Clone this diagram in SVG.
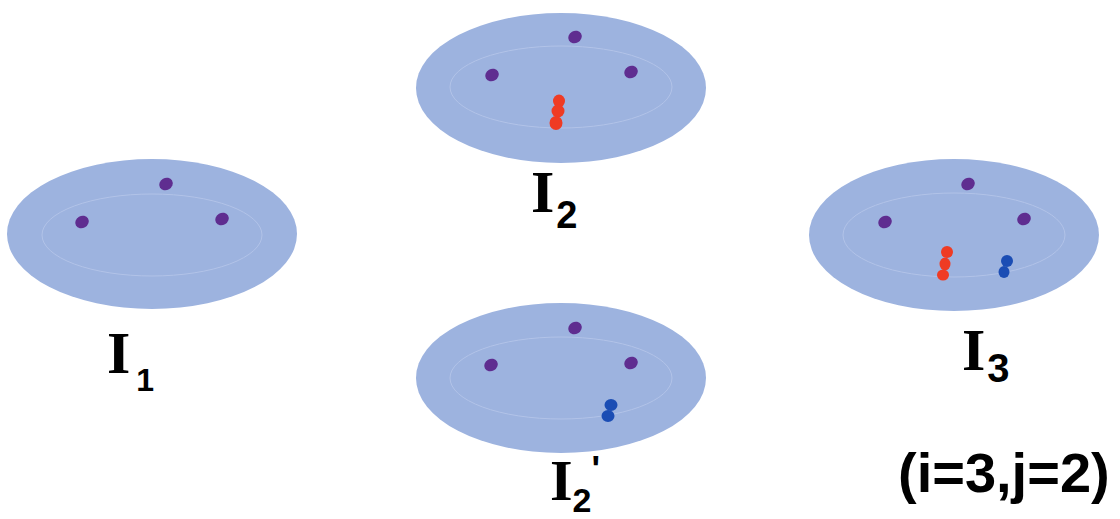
<svg xmlns="http://www.w3.org/2000/svg" width="1120" height="519" viewBox="0 0 1120 519">
<style>
.outer{fill:#9db3df;}
.inner{fill:none;stroke:#b2c3e8;stroke-width:1;}
.p{fill:#5f2d90;}
.r{fill:#ef3b24;}
.b{fill:#1b4db4;}
.lbl{font-family:"Liberation Serif",serif;font-weight:bold;fill:#000;}
.sub{font-family:"Liberation Sans",sans-serif;font-weight:bold;}
.eq{font-family:"Liberation Sans",sans-serif;font-weight:bold;font-size:56px;fill:#000;}
</style>
<rect width="1120" height="519" fill="#fff"/>
<g id="I1">
<ellipse class="outer" cx="152" cy="234" rx="145" ry="75"/>
<ellipse class="inner" cx="152" cy="235" rx="110" ry="41"/>
<ellipse class="p" cx="166" cy="184" rx="7" ry="6" transform="rotate(-30 166 184)"/>
<ellipse class="p" cx="82" cy="222" rx="7" ry="6" transform="rotate(-30 82 222)"/>
<ellipse class="p" cx="222" cy="219" rx="7" ry="6" transform="rotate(-30 222 219)"/>
<text class="lbl" x="107" y="373" font-size="60">I<tspan class="sub" font-size="32" font-weight="normal" dx="6" dy="18">1</tspan></text>
</g>
<g id="I2">
<ellipse class="outer" cx="561" cy="88" rx="145" ry="75"/>
<ellipse class="inner" cx="561" cy="87" rx="111" ry="41"/>
<ellipse class="p" cx="575" cy="37" rx="7" ry="6" transform="rotate(-30 575 37)"/>
<ellipse class="p" cx="492" cy="75" rx="7" ry="6" transform="rotate(-30 492 75)"/>
<ellipse class="p" cx="631" cy="72" rx="7" ry="6" transform="rotate(-30 631 72)"/>
<ellipse class="r" cx="559" cy="101" rx="6" ry="6.5"/>
<ellipse class="r" cx="558" cy="111" rx="6.5" ry="6.5"/>
<ellipse class="r" cx="556" cy="123" rx="6.5" ry="7"/>
<text class="lbl" x="531" y="212" font-size="60">I<tspan class="sub" font-size="38" dx="2" dy="16">2</tspan></text>
</g>
<g id="I2prime">
<ellipse class="outer" cx="561" cy="378" rx="145" ry="75"/>
<ellipse class="inner" cx="561" cy="378" rx="111" ry="41"/>
<ellipse class="p" cx="575" cy="328" rx="7" ry="6" transform="rotate(-30 575 328)"/>
<ellipse class="p" cx="491" cy="365" rx="7" ry="6" transform="rotate(-30 491 365)"/>
<ellipse class="p" cx="631" cy="363" rx="7" ry="6" transform="rotate(-30 631 363)"/>
<ellipse class="b" cx="611" cy="405" rx="6.5" ry="6"/>
<ellipse class="b" cx="608" cy="416" rx="6.5" ry="6"/>
<text class="lbl" x="550" y="500" font-size="58">I<tspan class="sub" font-size="34" dx="0" dy="12">2</tspan><tspan class="sub" font-size="36" font-weight="normal" dx="0" dy="-30">'</tspan></text>
</g>
<g id="I3">
<ellipse class="outer" cx="954" cy="235" rx="145" ry="76"/>
<ellipse class="inner" cx="954" cy="235" rx="111" ry="42"/>
<ellipse class="p" cx="968" cy="184" rx="7" ry="6" transform="rotate(-30 968 184)"/>
<ellipse class="p" cx="885" cy="222" rx="7" ry="6" transform="rotate(-30 885 222)"/>
<ellipse class="p" cx="1024" cy="219" rx="7" ry="6" transform="rotate(-30 1024 219)"/>
<ellipse class="r" cx="947" cy="252" rx="6" ry="6"/>
<ellipse class="r" cx="945" cy="264" rx="5.5" ry="6.5"/>
<ellipse class="r" cx="943" cy="275" rx="6" ry="5.5"/>
<ellipse class="b" cx="1007" cy="261" rx="6" ry="6"/>
<ellipse class="b" cx="1004" cy="272" rx="5.5" ry="6"/>
<text class="lbl" x="962" y="370" font-size="60">I<tspan class="sub" font-size="40" dx="2" dy="12">3</tspan></text>
</g>
<text class="eq" x="898" y="492">(i=3,j=2)</text>
</svg>
